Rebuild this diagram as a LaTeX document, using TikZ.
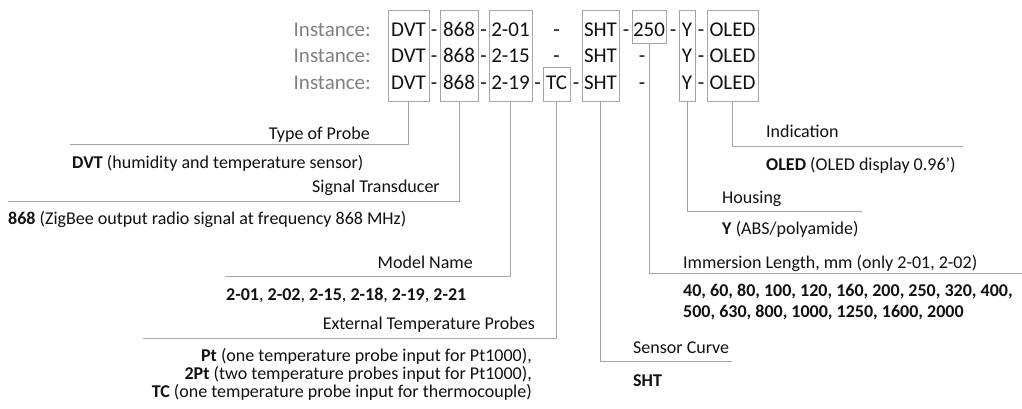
\documentclass[tikz,border=0pt]{standalone}
\usepackage{fontspec}
\setmainfont{Carlito}
\definecolor{lngray}{HTML}{A6A6A6}
\definecolor{instgray}{HTML}{808080}
\definecolor{txt}{HTML}{111111}
\begin{document}
\begin{tikzpicture}[x=1pt,y=-1pt,
  box/.style={draw=lngray,line width=1pt,inner sep=0pt},
  conn/.style={draw=lngray,line width=1pt},
  rowtxt/.style={inner sep=0pt,anchor=base,text=txt,font=\fontsize{21}{25}\selectfont},
  inst/.style={inner sep=0pt,anchor=base east,text=instgray,font=\fontsize{21}{25}\selectfont},
  lblR/.style={inner sep=0pt,anchor=base east,text=txt,font=\fontsize{18}{18}\selectfont},
  lblL/.style={inner sep=0pt,anchor=base west,text=txt,font=\fontsize{18}{18}\selectfont}]
\useasboundingbox[fill=white] (0,0) rectangle (1022,408);

% boxes
\node[box,minimum width=41pt,minimum height=91pt] (dvt)  at (408.5,55.5) {};
\node[box,minimum width=38pt,minimum height=91pt] (b868) at (459,55.5) {};
\node[box,minimum width=43pt,minimum height=91pt] (model) at (510.5,55.5) {};
\node[box,minimum width=27pt,minimum height=34pt] (tc)   at (556.5,84) {};
\node[box,minimum width=37pt,minimum height=91pt] (sht)  at (600.5,55.5) {};
\node[box,minimum width=34pt,minimum height=33pt] (b250) at (649,26.5) {};
\node[box,minimum width=16pt,minimum height=91pt] (by)   at (687,55.5) {};
\node[box,minimum width=51pt,minimum height=91pt] (oled) at (732.5,55.5) {};

% instance rows
\node[inst] (i1) at (371,36) {Instance:};
\node[inst] (i2) at (371,62) {Instance:};
\node[inst] (i3) at (371,89) {Instance:};

% row 1
\node[rowtxt] (r1a) at (408.5,36) {DVT};
\node[rowtxt] (r1b) at (434,36) {-};
\node[rowtxt] (r1c) at (459,36) {868};
\node[rowtxt] (r1d) at (483.5,36) {-};
\node[rowtxt] (r1e) at (510.5,36) {2-01};
\node[rowtxt] (r1f) at (556.5,36) {-};
\node[rowtxt] (r1g) at (600.5,36) {SHT};
\node[rowtxt] (r1h) at (626,36) {-};
\node[rowtxt] (r1i) at (649,36) {250};
\node[rowtxt] (r1j) at (673,36) {-};
\node[rowtxt] (r1k) at (687,36) {Y};
\node[rowtxt] (r1l) at (701,36) {-};
\node[rowtxt] (r1m) at (732.5,36) {OLED};

% row 2
\node[rowtxt] (r2a) at (408.5,62) {DVT};
\node[rowtxt] (r2b) at (434,62) {-};
\node[rowtxt] (r2c) at (459,62) {868};
\node[rowtxt] (r2d) at (483.5,62) {-};
\node[rowtxt] (r2e) at (510.5,62) {2-15};
\node[rowtxt] (r2f) at (556.5,62) {-};
\node[rowtxt] (r2g) at (600.5,62) {SHT};
\node[rowtxt] (r2h) at (642,62) {-};
\node[rowtxt] (r2k) at (687,62) {Y};
\node[rowtxt] (r2l) at (701,62) {-};
\node[rowtxt] (r2m) at (732.5,62) {OLED};

% row 3
\node[rowtxt] (r3a) at (408.5,89) {DVT};
\node[rowtxt] (r3b) at (434,89) {-};
\node[rowtxt] (r3c) at (459,89) {868};
\node[rowtxt] (r3d) at (483.5,89) {-};
\node[rowtxt] (r3e) at (510.5,89) {2-19};
\node[rowtxt] (r3f) at (537.5,89) {-};
\node[rowtxt] (r3t) at (556.5,89) {TC};
\node[rowtxt] (r3u) at (576,89) {-};
\node[rowtxt] (r3g) at (600.5,89) {SHT};
\node[rowtxt] (r3h) at (642,89) {-};
\node[rowtxt] (r3k) at (687,89) {Y};
\node[rowtxt] (r3l) at (701,89) {-};
\node[rowtxt] (r3m) at (732.5,89) {OLED};

% connector ends
\coordinate (e1) at (70,144);
\coordinate (e2) at (8,201);
\coordinate (e3) at (225,276);
\coordinate (e4) at (143,338);
\coordinate (e5) at (732,361);
\coordinate (e6) at (1022,273);
\coordinate (e7) at (862,211);
\coordinate (e8) at (963,146);

\draw[conn] (dvt.south) |- (e1);
\draw[conn] (b868.south) |- (e2);
\draw[conn] (model.south) |- (e3);
\draw[conn] (tc.south) |- (e4);
\draw[conn] (sht.south) |- (e5);
\draw[conn] (b250.south) |- (e6);
\draw[conn] (by.south) |- (e7);
\draw[conn] (oled.south) |- (e8);

% left labels
\node[lblR] (l1) at (370,139) {Type of Probe};
\node[lblL] (d1) at (72,168) {\textbf{DVT} (humidity and temperature sensor)};
\node[lblR] (l2) at (440,192) {Signal Transducer};
\node[lblL] (d2) at (8,224) {\textbf{868} (ZigBee output radio signal at frequency 868 MHz)};
\node[lblR] (l3) at (473,268) {Model Name};
\node[lblL] (d3) at (226,300) {\textbf{2-01}, \textbf{2-02}, \textbf{2-15}, \textbf{2-18}, \textbf{2-19}, \textbf{2-21}};
\node[lblR] (l4) at (535,329) {External Temperature Probes};
\node[lblR] (d4a) at (532,361) {\textbf{Pt} (one temperature probe input for Pt1000),};
\node[lblR] (d4b) at (532,379) {\textbf{2Pt} (two temperature probes input for Pt1000),};
\node[lblR] (d4c) at (532,397) {\textbf{TC} (one temperature probe input for thermocouple)};

% right labels
\node[lblL] (l8) at (766,137) {Indication};
\node[lblL] (d8) at (766,170) {\textbf{OLED} (OLED display 0.96’)};
\node[lblL] (l7) at (722,203) {Housing};
\node[lblL] (d7) at (722,234) {\textbf{Y} (ABS/polyamide)};
\node[lblL] (l6) at (683,268) {Immersion Length, mm (only 2-01, 2-02)};
\node[lblL] (d6a) at (683,296) {\textbf{40, 60, 80, 100, 120, 160, 200, 250, 320, 400,}};
\node[lblL] (d6b) at (683,317) {\textbf{500, 630, 800, 1000, 1250, 1600, 2000}};
\node[lblL] (l5) at (633,353) {Sensor Curve};
\node[lblL] (d5) at (633,386) {\textbf{SHT}};
\end{tikzpicture}
\end{document}
